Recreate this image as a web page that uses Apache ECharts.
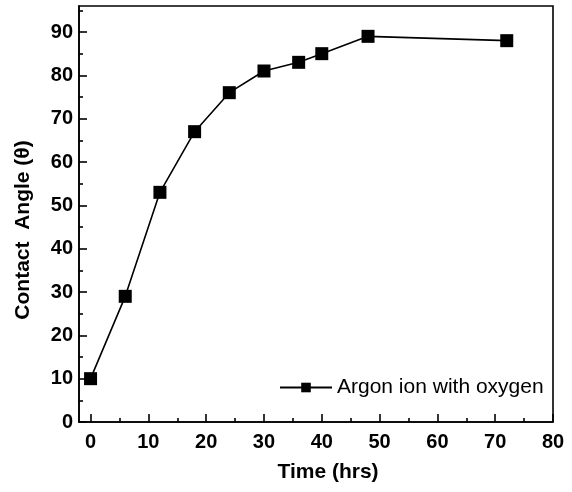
<!DOCTYPE html>
<html>
<head>
<meta charset="utf-8">
<script src="https://cdn.jsdelivr.net/npm/echarts@6/dist/echarts.min.js"></script>
<style>
  html, body { margin: 0; padding: 0; background: #fff; }
  #chart { width: 572px; height: 492px; }
</style>
</head>
<body>
<div id="chart"></div>
<script>
// data
const timeHrs = [0, 6, 12, 18, 24, 30, 36, 40, 48, 72];
const contactAngle = [10, 29, 53, 67, 76, 81, 83, 85, 89, 88];
const xTicks = [0, 10, 20, 30, 40, 50, 60, 70, 80];
const xMinorTicks = [5, 15, 25, 35, 45, 55, 65, 75];
const yTicks = [0, 10, 20, 30, 40, 50, 60, 70, 80, 90];
const yMinorTicks = [5, 15, 25, 35, 45, 55, 65, 75, 85, 95];

const FONT = '"Liberation Sans", Arial, sans-serif';

var chart = echarts.init(document.getElementById('chart'));

const axisBase = (min, max) => ({
  type: 'value',
  min: min,
  max: max,
  splitLine: { show: false },
  axisLine: { show: true, onZero: false, lineStyle: { color: '#000', width: 1.6 } }
});

chart.setOption({
  animation: false,
  backgroundColor: '#fff',
  grid: {
    left: 79, right: 19, top: 6, bottom: 70,
    show: true, borderColor: '#000', borderWidth: 1.6
  },
  legend: {
    left: 274,
    top: 372,
    itemWidth: 52,
    itemHeight: 12,
    itemGap: 4,
    textStyle: { fontFamily: FONT, fontSize: 21, color: '#000' },
    data: ['Argon ion with oxygen']
  },
  xAxis: [
    Object.assign(axisBase(-2, 80), {
      name: 'Time (hrs)',
      nameLocation: 'middle',
      nameGap: 40,
      nameTextStyle: { fontFamily: FONT, fontSize: 21, fontWeight: 'bold', color: '#000', padding: [0, 0, 0, 24] },
      axisTick: { show: true, inside: true, length: 8, customValues: xTicks, lineStyle: { color: '#000', width: 1.6 } },
      axisLabel: { customValues: xTicks, margin: 10, fontFamily: FONT, fontSize: 20, fontWeight: 'bold', color: '#000' }
    }),
    Object.assign(axisBase(-2, 80), {
      axisLine: { show: false, onZero: false },
      axisTick: { show: true, inside: true, length: 4, customValues: xMinorTicks, lineStyle: { color: '#000', width: 1.6 } },
      axisLabel: { show: false },
      position: 'bottom'
    })
  ],
  yAxis: [
    Object.assign(axisBase(0, 96), {
      name: 'Contact  Angle (\u03b8)',
      nameLocation: 'middle',
      nameGap: 45,
      nameTextStyle: { fontFamily: FONT, fontSize: 21, fontWeight: 'bold', color: '#000', padding: [0, 32, 0, 0] },
      axisTick: { show: true, inside: true, length: 8, customValues: yTicks, lineStyle: { color: '#000', width: 1.6 } },
      axisLabel: { customValues: yTicks, margin: 6, fontFamily: FONT, fontSize: 20, fontWeight: 'bold', color: '#000' }
    }),
    Object.assign(axisBase(0, 96), {
      axisLine: { show: false, onZero: false },
      axisTick: { show: true, inside: true, length: 4, customValues: yMinorTicks, lineStyle: { color: '#000', width: 1.6 } },
      axisLabel: { show: false },
      position: 'left'
    })
  ],
  series: [{
    name: 'Argon ion with oxygen',
    type: 'line',
    data: timeHrs.map((t, i) => [t, contactAngle[i]]),
    symbol: 'rect',
    symbolSize: 13,
    lineStyle: { color: '#000', width: 1.6 },
    itemStyle: { color: '#000' }
  }]
});
</script>
</body>
</html>
